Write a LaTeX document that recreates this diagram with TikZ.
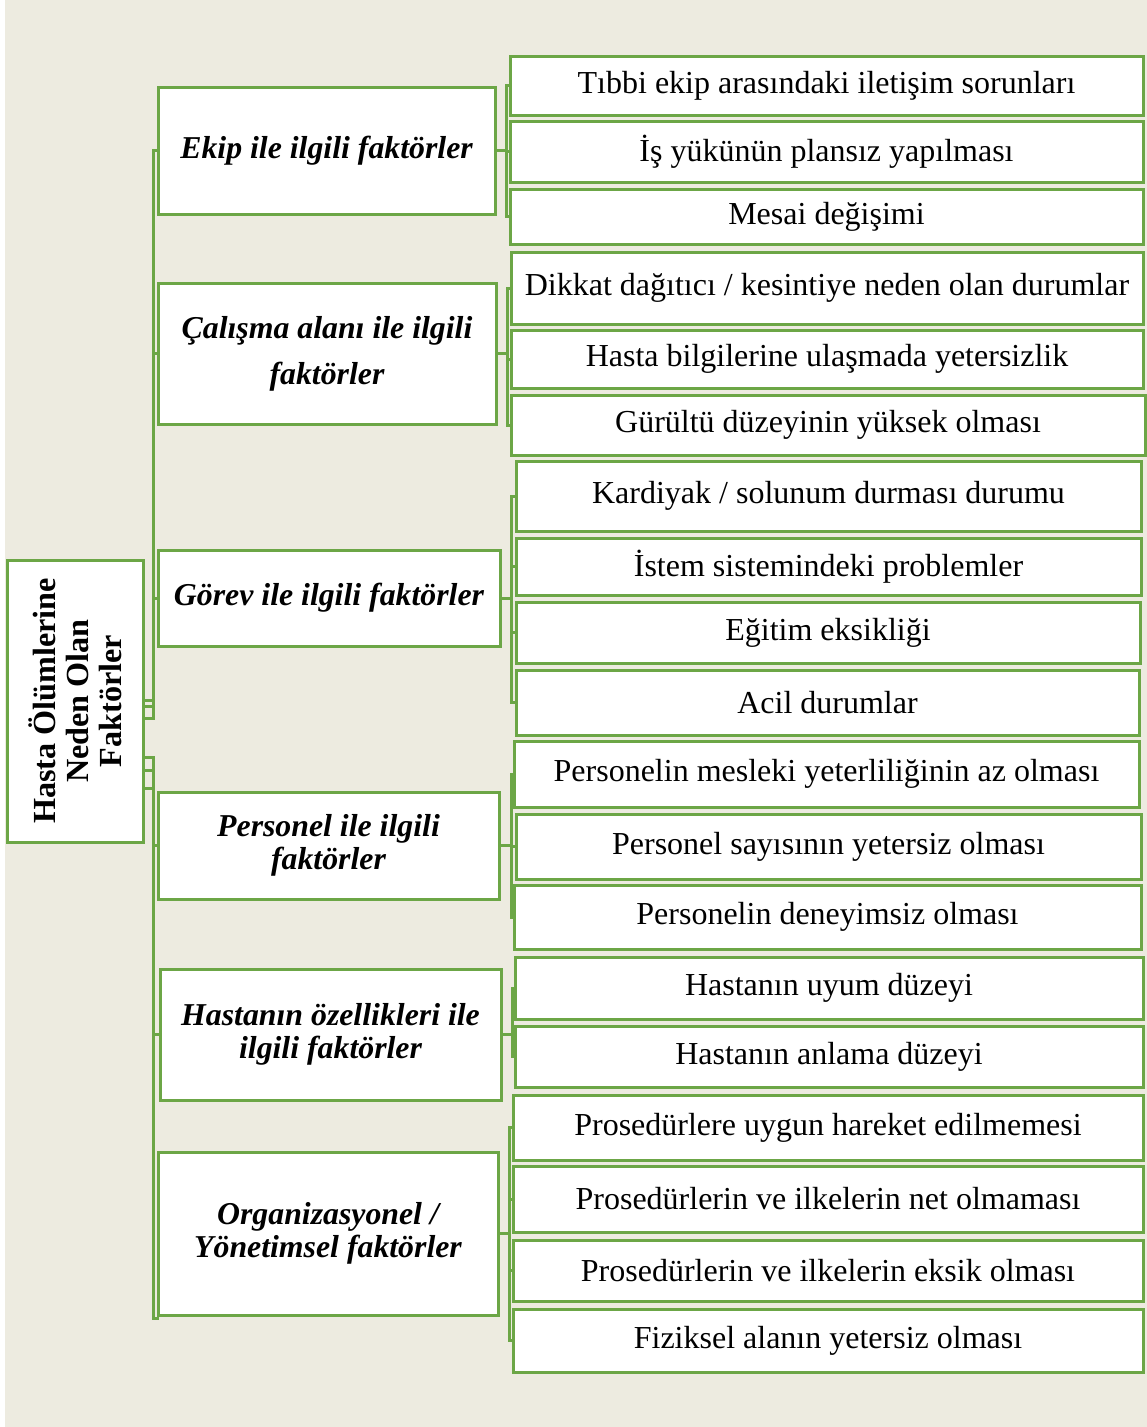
\documentclass[tikz,border=0pt]{standalone}
\usepackage{fontspec}
\setmainfont{Liberation Serif}
\definecolor{gline}{RGB}{108,166,70}
\definecolor{bgbeige}{RGB}{237,235,224}
\begin{document}
\begin{tikzpicture}[x=1pt,y=-1pt,
  box/.style={draw=gline,line width=3pt,fill=white,inner sep=0pt,anchor=center},
  leaf/.style={box,font=\fontsize{32}{36}\selectfont,align=center},
  cat/.style={box,font=\fontsize{31.8}{33}\selectfont\bfseries\itshape,align=center},
  conn/.style={draw=gline,line width=3pt},
  roottext/.style={font=\fontsize{32.2}{33}\selectfont\bfseries,align=center,rotate=90,inner sep=0pt}]
\useasboundingbox (0,0) rectangle (1147,1427);
\fill[bgbeige] (5,0) rectangle (1147,1427);

% root
\node[box,minimum width=136pt,minimum height=282pt] (root) at (75,701) {};
\node[roottext] (roottxt) at (root.center) {Hasta Ölümlerine\\Neden Olan\\Faktörler};

% categories
\node[cat,minimum width=337pt,minimum height=127pt] (c1) at (326.5,150.5) {Ekip ile ilgili faktörler};
\node[cat,minimum width=338pt,minimum height=141pt] (c2) at (327,353.5) {Çalışma alanı ile ilgili\\[13pt]faktörler};
\node[cat,minimum width=342pt,minimum height=96pt] (c3) at (329,598) {Görev ile ilgili faktörler};
\node[cat,minimum width=341pt,minimum height=107pt] (c4) at (328.5,845.5) {Personel ile ilgili\\faktörler};
\node[cat,minimum width=341pt,minimum height=131pt] (c5) at (330.5,1034.5) {Hastanın özellikleri ile\\ilgili faktörler};
\node[cat,minimum width=340pt,minimum height=163pt] (c6) at (328,1233.5) {Organizasyonel /\\Yönetimsel faktörler};

% leaves
\node[leaf,minimum width=633pt,minimum height=59pt] (l1) at (826.5,85.5) {Tıbbi ekip arasındaki iletişim sorunları};
\node[leaf,minimum width=633pt,minimum height=61pt] (l2) at (826.5,151.5) {İş yükünün plansız yapılması};
\node[leaf,minimum width=633pt,minimum height=55pt] (l3) at (826.5,216.5) {Mesai değişimi};
\node[leaf,minimum width=632pt,minimum height=72pt] (l4) at (827,288) {Dikkat dağıtıcı / kesintiye neden olan durumlar};
\node[leaf,minimum width=632pt,minimum height=58pt] (l5) at (827,359) {Hasta bilgilerine ulaşmada yetersizlik};
\node[leaf,minimum width=634pt,minimum height=60pt] (l6) at (828,425) {Gürültü düzeyinin yüksek olması};
\node[leaf,minimum width=625pt,minimum height=70pt] (l7) at (828.5,496) {Kardiyak / solunum durması durumu};
\node[leaf,minimum width=625pt,minimum height=57pt] (l8) at (828.5,566.5) {İstem sistemindeki problemler};
\node[leaf,minimum width=624pt,minimum height=61pt] (l9) at (828,632.5) {Eğitim eksikliği};
\node[leaf,minimum width=623pt,minimum height=65pt] (l10) at (827.5,702.5) {Acil durumlar};
\node[leaf,minimum width=625pt,minimum height=66pt] (l11) at (826.5,774) {Personelin mesleki yeterliliğinin az olması};
\node[leaf,minimum width=625pt,minimum height=65pt] (l12) at (828.5,846.5) {Personel sayısının yetersiz olması};
\node[leaf,minimum width=627pt,minimum height=64pt] (l13) at (827.5,917) {Personelin deneyimsiz olması};
\node[leaf,minimum width=628pt,minimum height=62pt] (l14) at (829,988) {Hastanın uyum düzeyi};
\node[leaf,minimum width=628pt,minimum height=61pt] (l15) at (829,1056.5) {Hastanın anlama düzeyi};
\node[leaf,minimum width=630pt,minimum height=65pt] (l16) at (828,1127.5) {Prosedürlere uygun hareket edilmemesi};
\node[leaf,minimum width=630pt,minimum height=66pt] (l17) at (828,1199) {Prosedürlerin ve ilkelerin net olmaması};
\node[leaf,minimum width=630pt,minimum height=61pt] (l18) at (828,1270.5) {Prosedürlerin ve ilkelerin eksik olması};
\node[leaf,minimum width=630pt,minimum height=63pt] (l19) at (828,1340.5) {Fiziksel alanın yetersiz olması};

% root to categories
\draw[conn] ([yshift=1pt]root.east) -- ++(9,0) |- (c1.west);
\draw[conn] ([yshift=-5pt]root.east) -- ++(9,0) |- (c2.west);
\draw[conn] ([yshift=-17pt]root.east) -- ++(9,0) |- (c3.west);
\draw[conn] ([yshift=-56pt]root.east) -- ++(9,0) |- (c4.west);
\draw[conn] ([yshift=-69pt]root.east) -- ++(9,0) |- (c5.west);
\draw[conn] ([yshift=-87pt]root.east) -- ++(9,0) |- ([xshift=2pt,yshift=-2pt]c6.south west);

% categories to leaves
\foreach \l in {l1,l2,l3} \draw[conn] (c1.east) -- ++(10,0) |- (\l.west);
\foreach \l in {l4,l5,l6} \draw[conn] (c2.east) -- ++(10,0) |- (\l.west);
\foreach \l in {l7,l8,l9,l10} \draw[conn] (c3.east) -- ++(10,0) |- (\l.west);
\foreach \l in {l11,l12,l13} \draw[conn] (c4.east) -- ++(11,0) |- (\l.west);
\foreach \l in {l14,l15} \draw[conn] (c5.east) -- ++(10,0) |- (\l.west);
\foreach \l in {l16,l17,l18,l19} \draw[conn] (c6.east) -- ++(10,0) |- (\l.west);
\end{tikzpicture}
\end{document}
